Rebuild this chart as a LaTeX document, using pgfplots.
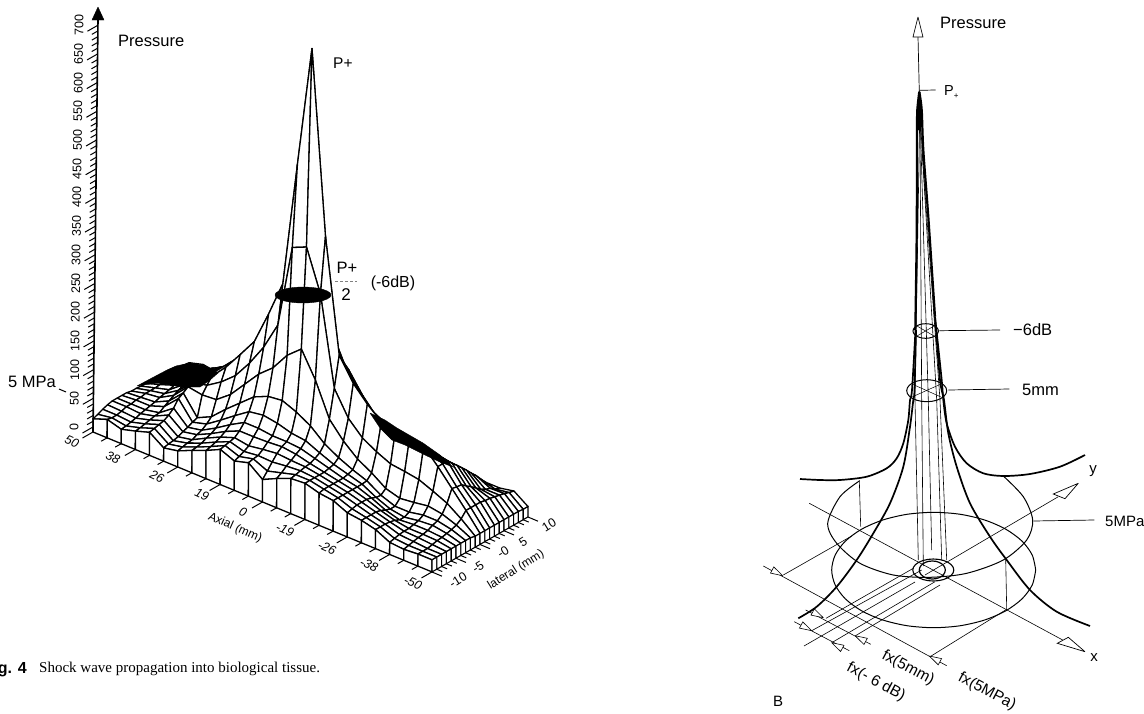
\documentclass[border=0pt]{standalone}
\usepackage{pgfplots}
\pgfplotsset{compat=1.18}
\usepackage{pgfplotstable}
\usepackage{fontspec}
\setmainfont{Liberation Sans}
\newfontfamily\capfont{Liberation Serif}

\newcommand{\fs}[1]{\fontsize{#1}{#1}\selectfont}

\pgfplotstableread[row sep=crcr]{c s\\
1 0\\ 0.966 0.259\\ 0.866 0.5\\ 0.707 0.707\\ 0.5 0.866\\ 0.259 0.966\\ 0 1\\ -0.259 0.966\\ -0.5 0.866\\ -0.707 0.707\\ -0.866 0.5\\ -0.966 0.259\\ -1 0\\
-0.966 -0.259\\ -0.866 -0.5\\ -0.707 -0.707\\ -0.5 -0.866\\ -0.259 -0.966\\ 0 -1\\ 0.259 -0.966\\ 0.5 -0.866\\ 0.707 -0.707\\ 0.866 -0.5\\ 0.966 -0.259\\ 1 0\\
}\unitc
\newcommand{\ellip}[5]{\addplot[#5] table[x expr={\thisrow{c}*#3+#1}, y expr={\thisrow{s}*#4+#2}] {\unitc};}

\begin{document}
\begin{tikzpicture}
\useasboundingbox (0,0) rectangle (1144pt,713pt);

% panel A: pressure surface, axial index x, lateral index y, pressure z
\begin{axis}[
    at={(93pt,281pt)}, anchor=origin,
    x={(14.125pt,-5.83pt)}, y={(4.8pt,2.75pt)}, z={(0.002pt,0.574pt)},
    xmin=0, xmax=24, ymin=0, ymax=20, zmin=0, zmax=750,
    hide axis, clip=false, z buffer=none,
    colormap={wh}{color(0)=(white) color(1)=(white)},
]
\addplot3[surf, shader=faceted, faceted color=black, line width=1.3pt, line join=round, mesh/rows=21, mesh/cols=25] coordinates {
(0,20,25)(1,20,32)(2,20,28)(3,20,49)(4,20,63)(5,20,75)(6,20,88)(7,20,98)(8,20,60)(9,20,70)(10,20,81)(11,20,91)(12,20,100)(13,20,72)(14,20,60)(15,20,54)(16,20,53)(17,20,44)(18,20,40)(19,20,35)(20,20,35)(21,20,30)(22,20,30)(23,20,35)(24,20,18)
(0,19,26)(1,19,33)(2,19,33)(3,19,53)(4,19,67)(5,19,79)(6,19,91)(7,19,103)(8,19,61)(9,19,72)(10,19,82)(11,19,93)(12,19,103)(13,19,77)(14,19,70)(15,19,63)(16,19,61)(17,19,53)(18,19,51)(19,19,46)(20,19,42)(21,19,40)(22,19,33)(23,19,37)(24,19,18)
(0,18,28)(1,18,35)(2,18,39)(3,18,58)(4,18,70)(5,18,84)(6,18,96)(7,18,109)(8,18,63)(9,18,74)(10,18,84)(11,18,95)(12,18,109)(13,18,82)(14,18,79)(15,18,74)(16,18,72)(17,18,63)(18,18,60)(19,18,54)(20,18,51)(21,18,51)(22,18,39)(23,18,40)(24,18,19)
(0,17,30)(1,17,39)(2,17,42)(3,17,61)(4,17,74)(5,17,88)(6,17,102)(7,17,114)(8,17,68)(9,17,79)(10,17,89)(11,17,98)(12,17,116)(13,17,91)(14,17,89)(15,17,82)(16,17,82)(17,17,74)(18,17,70)(19,17,65)(20,17,61)(21,17,60)(22,17,42)(23,17,42)(24,17,19)
(0,16,32)(1,16,40)(2,16,46)(3,16,65)(4,16,75)(5,16,91)(6,16,109)(7,16,119)(8,16,75)(9,16,86)(10,16,98)(11,16,109)(12,16,126)(13,16,102)(14,16,100)(15,16,93)(16,16,91)(17,16,84)(18,16,81)(19,16,75)(20,16,70)(21,16,70)(22,16,47)(23,16,44)(24,16,19)
(0,15,32)(1,15,42)(2,15,47)(3,15,68)(4,15,79)(5,15,95)(6,15,114)(7,15,124)(8,15,84)(9,15,98)(10,15,112)(11,15,123)(12,15,137)(13,15,116)(14,15,124)(15,15,103)(16,15,102)(17,15,93)(18,15,89)(19,15,86)(20,15,81)(21,15,79)(22,15,54)(23,15,46)(24,15,19)
(0,14,32)(1,14,44)(2,14,47)(3,14,72)(4,14,82)(5,14,98)(6,14,119)(7,14,130)(8,14,98)(9,14,116)(10,14,133)(11,14,144)(12,14,149)(13,14,133)(14,14,149)(15,14,114)(16,14,112)(17,14,103)(18,14,100)(19,14,95)(20,14,89)(21,14,88)(22,14,61)(23,14,47)(24,14,19)
(0,13,32)(1,13,42)(2,13,51)(3,13,74)(4,13,86)(5,13,102)(6,13,123)(7,13,135)(8,13,116)(9,13,137)(10,13,158)(11,13,175)(12,13,166)(13,13,154)(14,13,170)(15,13,135)(16,13,121)(17,13,112)(18,13,109)(19,13,105)(20,13,100)(21,13,96)(22,13,67)(23,13,49)(24,13,19)
(0,12,32)(1,12,42)(2,12,51)(3,12,74)(4,12,88)(5,12,105)(6,12,126)(7,12,140)(8,12,137)(9,12,161)(10,12,189)(11,12,224)(12,12,210)(13,12,189)(14,12,193)(15,12,158)(16,12,131)(17,12,123)(18,12,119)(19,12,116)(20,12,110)(21,12,105)(22,12,74)(23,12,49)(24,12,19)
(0,11,32)(1,11,40)(2,11,49)(3,11,70)(4,11,88)(5,11,105)(6,11,130)(7,11,154)(8,11,158)(9,11,189)(10,11,224)(11,11,271)(12,11,319)(13,11,263)(14,11,210)(15,11,175)(16,11,147)(17,11,131)(18,11,128)(19,11,124)(20,11,119)(21,11,105)(22,11,75)(23,11,49)(24,11,19)
(0,10,32)(1,10,39)(2,10,46)(3,10,65)(4,10,88)(5,10,100)(6,10,126)(7,10,158)(8,10,191)(9,10,249)(10,10,312)(11,10,530)(12,10,742)(13,10,425)(14,10,228)(15,10,189)(16,10,163)(17,10,142)(18,10,138)(19,10,135)(20,10,130)(21,10,105)(22,10,77)(23,10,49)(24,10,19)
(0,9,33)(1,9,39)(2,9,44)(3,9,60)(4,9,84)(5,9,89)(6,9,105)(7,9,126)(8,9,158)(9,9,196)(10,9,245)(11,9,390)(12,9,401)(13,9,329)(14,9,175)(15,9,133)(16,9,109)(17,9,95)(18,9,84)(19,9,81)(20,9,77)(21,9,67)(22,9,56)(23,9,39)(24,9,19)
(0,8,33)(1,8,39)(2,8,42)(3,8,56)(4,8,81)(5,8,77)(6,8,79)(7,8,98)(8,8,126)(9,8,154)(10,8,175)(11,8,207)(12,8,228)(13,8,184)(14,8,126)(15,8,98)(16,8,77)(17,8,63)(18,8,46)(19,8,39)(20,8,42)(21,8,46)(22,8,42)(23,8,33)(24,8,21)
(0,7,35)(1,7,37)(2,7,39)(3,7,51)(4,7,75)(5,7,42)(6,7,54)(7,7,77)(8,7,98)(9,7,119)(10,7,130)(11,7,133)(12,7,123)(13,7,109)(14,7,88)(15,7,74)(16,7,63)(17,7,54)(18,7,39)(19,7,30)(20,7,30)(21,7,35)(22,7,35)(23,7,30)(24,7,21)
(0,6,35)(1,6,37)(2,6,37)(3,6,46)(4,6,70)(5,6,39)(6,6,46)(7,6,63)(8,6,81)(9,6,98)(10,6,102)(11,6,98)(12,6,91)(13,6,88)(14,6,77)(15,6,67)(16,6,60)(17,6,53)(18,6,40)(19,6,30)(20,6,26)(21,6,30)(22,6,32)(23,6,28)(24,6,21)
(0,5,35)(1,5,35)(2,5,35)(3,5,40)(4,5,58)(5,5,35)(6,5,40)(7,5,54)(8,5,70)(9,5,84)(10,5,84)(11,5,81)(12,5,81)(13,5,79)(14,5,72)(15,5,65)(16,5,58)(17,5,53)(18,5,44)(19,5,33)(20,5,26)(21,5,28)(22,5,28)(23,5,26)(24,5,21)
(0,4,35)(1,4,35)(2,4,33)(3,4,39)(4,4,51)(5,4,32)(6,4,37)(7,4,49)(8,4,63)(9,4,74)(10,4,74)(11,4,75)(12,4,77)(13,4,74)(14,4,68)(15,4,63)(16,4,58)(17,4,53)(18,4,46)(19,4,37)(20,4,30)(21,4,26)(22,4,26)(23,4,25)(24,4,21)
(0,3,33)(1,3,32)(2,3,30)(3,3,37)(4,3,46)(5,3,28)(6,3,33)(7,3,46)(8,3,58)(9,3,67)(10,3,63)(11,3,67)(12,3,70)(13,3,68)(14,3,67)(15,3,63)(16,3,58)(17,3,53)(18,3,46)(19,3,39)(20,3,32)(21,3,26)(22,3,25)(23,3,23)(24,3,21)
(0,2,30)(1,2,30)(2,2,28)(3,2,35)(4,2,44)(5,2,26)(6,2,32)(7,2,42)(8,2,54)(9,2,65)(10,2,58)(11,2,61)(12,2,60)(13,2,63)(14,2,65)(15,2,63)(16,2,58)(17,2,53)(18,2,46)(19,2,39)(20,2,33)(21,2,25)(22,2,23)(23,2,21)(24,2,21)
(0,1,26)(1,1,30)(2,1,26)(3,1,33)(4,1,42)(5,1,25)(6,1,30)(7,1,40)(8,1,51)(9,1,63)(10,1,54)(11,1,60)(12,1,49)(13,1,56)(14,1,63)(15,1,63)(16,1,58)(17,1,53)(18,1,44)(19,1,39)(20,1,33)(21,1,23)(22,1,21)(23,1,21)(24,1,21)
(0,0,23)(1,0,32)(2,0,25)(3,0,32)(4,0,40)(5,0,23)(6,0,28)(7,0,39)(8,0,49)(9,0,61)(10,0,51)(11,0,58)(12,0,39)(13,0,51)(14,0,61)(15,0,63)(16,0,56)(17,0,53)(18,0,42)(19,0,39)(20,0,33)(21,0,21)(22,0,19)(23,0,21)(24,0,21)
};
% front skirt
\addplot3[surf, shader=faceted, faceted color=black, line width=1.3pt, mesh/rows=2, mesh/cols=25] coordinates {
(0,0,0)(1,0,0)(2,0,0)(3,0,0)(4,0,0)(5,0,0)(6,0,0)(7,0,0)(8,0,0)(9,0,0)(10,0,0)(11,0,0)(12,0,0)(13,0,0)(14,0,0)(15,0,0)(16,0,0)(17,0,0)(18,0,0)(19,0,0)(20,0,0)(21,0,0)(22,0,0)(23,0,0)(24,0,0)
(0,0,23)(1,0,32)(2,0,25)(3,0,32)(4,0,40)(5,0,23)(6,0,28)(7,0,39)(8,0,49)(9,0,61)(10,0,51)(11,0,58)(12,0,39)(13,0,51)(14,0,61)(15,0,63)(16,0,56)(17,0,53)(18,0,42)(19,0,39)(20,0,33)(21,0,21)(22,0,19)(23,0,21)(24,0,21)
};
% end skirt, lateral side
\addplot3[surf, shader=faceted, faceted color=black, line width=1.1pt, mesh/rows=2, mesh/cols=21] coordinates {
(24,0,0)(24,1,0)(24,2,0)(24,3,0)(24,4,0)(24,5,0)(24,6,0)(24,7,0)(24,8,0)(24,9,0)(24,10,0)(24,11,0)(24,12,0)(24,13,0)(24,14,0)(24,15,0)(24,16,0)(24,17,0)(24,18,0)(24,19,0)(24,20,0)
(24,0,21)(24,1,21)(24,2,21)(24,3,21)(24,4,21)(24,5,21)(24,6,21)(24,7,21)(24,8,21)(24,9,19)(24,10,19)(24,11,19)(24,12,19)(24,13,19)(24,14,19)(24,15,19)(24,16,19)(24,17,19)(24,18,19)(24,19,18)(24,20,18)
};
\end{axis}

% everything else, in image coordinates
\begin{axis}[
    at={(0pt,0pt)}, anchor=south west, scale only axis,
    width=1144pt, height=713pt,
    xmin=0, xmax=1144, ymin=0, ymax=713, y dir=reverse,
    hide axis, clip=false,
    every axis plot/.append style={black, no markers},
]
% panel A: the parts of the mesh so dense that they print solid
\addplot[fill=black, draw=black] coordinates {(137,386)(150,379)(167,370)(176,366)(190,363)(203,365)(218,373)(210,380)(200,387)(183,387)(157,383)(137,386)};
\addplot[fill=black, draw=black] coordinates {(370,413)(385,420)(397,428)(423,443)(440,455)(453,467)(440,462)(425,455)(405,445)(392,440)(380,428)(370,413)};
% panel A: pressure axis
\addplot[line width=1.6pt] coordinates {(93,432)(98,20)};
\addplot[fill=black, draw=black] coordinates {(98,7)(92,20)(104,20)(98,7)};
\addplot[quiver={u=-6,v=3.4}, line width=1pt] table[row sep=crcr, x expr={93+\thisrow{v}*0.0071}, y expr={427-\thisrow{v}*0.574}] {v\\
10\\20\\30\\40\\60\\70\\80\\90\\110\\120\\130\\140\\160\\170\\180\\190\\210\\220\\230\\240\\260\\270\\280\\290\\310\\320\\330\\340\\360\\370\\380\\390\\410\\420\\430\\440\\460\\470\\480\\490\\510\\520\\530\\540\\560\\570\\580\\590\\610\\620\\630\\640\\660\\670\\680\\690\\
};
\addplot[quiver={u=-10.5,v=6}, line width=1pt] table[row sep=crcr, x expr={93+\thisrow{v}*0.0071}, y expr={427-\thisrow{v}*0.574}] {v\\
0\\50\\100\\150\\200\\250\\300\\350\\400\\450\\500\\550\\600\\650\\700\\
};
\pgfplotsinvokeforeach{0,50,100,150,200,250,300,350,400,450,500,550,600,650,700}{
  \pgfmathsetmacro\lx{74+#1*0.0071}\pgfmathsetmacro\ly{427-#1*0.574}
  \edef\temp{\noexpand\node[rotate=90, inner sep=0pt] at (axis cs:\lx,\ly) {\noexpand\fs{12.5}#1};}\temp
}
% panel A: axial and lateral ticks
\addplot[quiver={u=-6,v=3.4}, line width=1pt] table[row sep=crcr, x expr={93+14.125*\thisrow{v}}, y expr={432+5.83*\thisrow{v}}] {v\\
1\\2\\4\\5\\7\\8\\10\\11\\13\\14\\16\\17\\19\\20\\22\\23\\
};
\addplot[quiver={u=-10.5,v=6}, line width=1pt] table[row sep=crcr, x expr={93+14.125*\thisrow{v}}, y expr={432+5.83*\thisrow{v}}] {v\\
0\\3\\6\\9\\12\\15\\18\\21\\24\\
};
\addplot[quiver={u=5.5,v=2.3}, line width=1pt] table[row sep=crcr, x expr={432+4.8*\thisrow{v}}, y expr={572-2.75*\thisrow{v}}] {v\\
1\\2\\3\\4\\6\\7\\8\\9\\11\\12\\13\\14\\16\\17\\18\\19\\
};
\addplot[quiver={u=10,v=4.2}, line width=1pt] table[row sep=crcr, x expr={432+4.8*\thisrow{v}}, y expr={572-2.75*\thisrow{v}}] {v\\
0\\5\\10\\15\\20\\
};
\ellip{303}{295}{28}{8}{fill=black, draw=black}

\begin{scope}[every node/.style={inner sep=0pt}]
\node[rotate=-25] at (axis cs:72,442) {\fs{12.5}\itshape 50};
\node[rotate=-25] at (axis cs:113,458) {\fs{12.5}\itshape 38};
\node[rotate=-25] at (axis cs:157,477) {\fs{12.5}\itshape 26};
\node[rotate=-25] at (axis cs:202,495) {\fs{12.5}\itshape 19};
\node[rotate=-25] at (axis cs:243,512) {\fs{12.5}\itshape 0};
\node[rotate=-25] at (axis cs:285,530) {\fs{12.5}\itshape -19};
\node[rotate=-25] at (axis cs:327,548) {\fs{12.5}\itshape -26};
\node[rotate=-25] at (axis cs:369,565) {\fs{12.5}\itshape -38};
\node[rotate=-25] at (axis cs:413,583) {\fs{12.5}\itshape -50};
\node[rotate=-24] at (axis cs:235,528) {\fs{12}Axial (mm)};
\node[rotate=32] at (axis cs:458,580) {\fs{12.5}-10};
\node[rotate=32] at (axis cs:478,567) {\fs{12.5}-5};
\node[rotate=32] at (axis cs:503,552) {\fs{12.5}-0};
\node[rotate=32] at (axis cs:523,542) {\fs{12.5}5};
\node[rotate=32] at (axis cs:549,525) {\fs{12.5}10};
\node[rotate=32] at (axis cs:516,570) {\fs{12}lateral (mm)};
\node[anchor=west] at (axis cs:118,41) {\fs{16.5}Pressure};
\node[anchor=west] at (axis cs:8,382) {\fs{16.5}5 MPa};
\node[anchor=west] at (axis cs:333,63) {\fs{15.5}P+};
\node at (axis cs:347,268) {\fs{16.5}P+};
\node at (axis cs:346,295) {\fs{17}2};
\node at (axis cs:393,283) {\fs{16}(-6dB)};
\node[anchor=east] at (axis cs:27,669) {\fs{16}\bfseries Fig. 4};
\node[anchor=west] at (axis cs:39,669) {\capfont\fs{15}Shock wave propagation into biological tissue.};
\end{scope}
\addplot[line width=0.6pt, densely dashed, gray] coordinates {(335,281)(357,281)};
\addplot[line width=1pt] coordinates {(59,389)(66,392)};

% panel B: pressure axis
\addplot[line width=0.7pt] coordinates {(918,36.7)(919.3,91.7)};
\addplot[line width=0.7pt, fill=white] coordinates {(918,17)(913,37)(923,37)(918,17)};
\addplot[line width=0.7pt] coordinates {(919.3,90.3)(935.7,90)};
% profile curves
\addplot[line width=1.7pt, smooth] coordinates {(915.5,330)(912,390)(910,400)(908.3,420)(903.3,443.3)(896.7,458.3)(886.7,468.3)(866.7,476.7)(840,480)(820,480)(800,479)};
\addplot[line width=1.7pt, smooth] coordinates {(916,330)(914.5,390)(913.3,400)(910,426.7)(903.3,466.7)(890,503.3)(873.3,533.3)(856.7,560)(836.7,586.7)(816.7,606.7)(798.3,618.3)};
\addplot[line width=1.7pt, smooth] coordinates {(935,316.7)(941.7,380)(943.3,400)(946.7,423.3)(955,446.7)(966.7,463.3)(983.3,473.3)(1003.3,476)(1030,474)(1060,466.7)(1085,455)};
\addplot[line width=1.7pt, smooth] coordinates {(935,316.7)(940,380)(944,400)(948.3,433.3)(956.7,466.7)(970,503.3)(990,536.7)(1006.7,560)(1030,590)(1056.7,611.7)(1090,626)};
\addplot[line width=2.2pt, smooth] coordinates {(919.3,91.7)(917.3,110)(917,133)(916.7,233)(915.3,330)};
\addplot[line width=2.2pt, smooth] coordinates {(919.3,91.7)(921.7,110)(923.3,150)(928.3,216.7)(935,316.7)};
\addplot[fill=black, draw=black] coordinates {(919.3,91)(917,110)(917.5,130)(921,130)(921.5,110)(919.3,91)};
% thin lines inside the column
\addplot[line width=0.6pt] coordinates {(919.5,130)(915,400)(918.3,560)};
\addplot[line width=0.6pt] coordinates {(920,130)(921.7,400)(923.3,566)};
\addplot[line width=0.6pt] coordinates {(920.5,130)(928.3,400)(931.7,550)};
\addplot[line width=0.6pt] coordinates {(921,130)(936.7,400)(941.7,560)};
\addplot[line width=0.6pt] coordinates {(922,150)(940,400)(946.7,560)};
% level rings
\ellip{925.7}{331}{12.7}{7.3}{line width=1pt}
\ellip{926.7}{390.7}{20}{11}{line width=1pt}
\addplot[line width=0.5pt] coordinates {(917,326)(934,336)};
\addplot[line width=0.5pt] coordinates {(917,336)(934,326)};
\addplot[line width=0.5pt] coordinates {(912,384)(941,397)};
\addplot[line width=0.5pt] coordinates {(912,397)(941,384)};
\addplot[line width=0.7pt] coordinates {(939.3,330.7)(1000,330)};
\addplot[line width=0.7pt] coordinates {(948.3,390)(1009.3,389)};
\addplot[line width=1pt, smooth] coordinates {(859.3,481)(840,496.7)(827.7,523.3)(836.7,543.3)(860,563.3)(893.3,575)(930,577.3)(966.7,573.3)(1003.3,560)(1026.7,540)(1032.7,520)(1023.3,496.7)(1003.3,476)};
\ellip{933.7}{570}{102}{57.7}{line width=1pt, smooth}
\ellip{933.3}{570}{20.5}{11}{line width=1.1pt}
\ellip{932.3}{570}{13}{9}{line width=1.2pt}
\addplot[line width=0.6pt] coordinates {(859.3,480)(860.7,526.7)};
\addplot[line width=0.6pt] coordinates {(1005.7,559.3)(1006.7,609.3)};
\addplot[line width=0.7pt] coordinates {(1033.3,521)(1094.3,520)};
% ground axes
\addplot[line width=0.6pt] coordinates {(925,575)(1058.3,496.7)};
\addplot[line width=0.7pt, fill=white] coordinates {(1078.3,483.3)(1053.3,494)(1065,498.7)(1078.3,483.3)};
\addplot[line width=0.6pt] coordinates {(809.3,503.3)(1062.7,640)};
\addplot[line width=0.7pt, fill=white] coordinates {(1085,651.7)(1068.3,637.3)(1057.3,643.3)(1085,651.7)};
% dimension lines
\addplot[line width=0.6pt] coordinates {(763.3,566)(946.7,665.7)};
\addplot[line width=0.6pt] coordinates {(805.7,610)(870.7,644.3)};
\addplot[line width=0.6pt] coordinates {(794.3,621.7)(849.3,650.7)};
\addplot[line width=0.6pt] coordinates {(783.3,575)(851.7,536)};
\addplot[line width=0.6pt] coordinates {(930,656.7)(1006.7,609.3)};
\addplot[line width=0.6pt] coordinates {(826,618.3)(913.3,568.3)};
\addplot[line width=0.6pt] coordinates {(811.7,630.7)(921.7,570)};
\addplot[line width=0.6pt] coordinates {(855,636)(940,585)};
\addplot[line width=0.6pt] coordinates {(831.7,642.7)(935,581.7)};
\addplot[line width=0.6pt] coordinates {(804,646)(915,582)};
\addplot[line width=0.6pt, fill=white] coordinates {(782.7,575.7)(770.5,573.1)(773.8,566.9)(782.7,575.7)};
\addplot[line width=0.6pt, fill=white] coordinates {(929.3,656)(938.2,664.8)(941.6,658.6)(929.3,656)};
\addplot[line width=0.6pt, fill=white] coordinates {(823.3,617.7)(811,615.1)(814.4,608.9)(823.3,617.7)};
\addplot[line width=0.6pt, fill=white] coordinates {(855,635.7)(864,644.5)(867.3,638.3)(855,635.7)};
\addplot[line width=0.6pt, fill=white] coordinates {(811.7,630.7)(799.4,628.1)(802.8,621.9)(811.7,630.7)};
\addplot[line width=0.6pt, fill=white] coordinates {(831.7,642.7)(840.6,651.5)(844,645.3)(831.7,642.7)};

\begin{scope}[every node/.style={inner sep=0pt}]
\node[anchor=west] at (axis cs:940,23) {\fs{16.5}Pressure};
\node[anchor=west] at (axis cs:944,92) {\fs{14.5}P\raisebox{-3pt}{\fs{8}+}};
\node[anchor=west] at (axis cs:1013,330) {\fs{16.5}−6dB};
\node[anchor=west] at (axis cs:1022,390) {\fs{16.5}5mm};
\node[anchor=west] at (axis cs:1105,521) {\fs{15}5MPa};
\node at (axis cs:1093,471) {\fs{15}y};
\node at (axis cs:1094,658) {\fs{15}x};
\node at (axis cs:778,701) {\fs{15}B};
\node[rotate=-28] at (axis cs:908,668) {\fs{15.5}fx(5mm)};
\node[rotate=-28] at (axis cs:876,682) {\fs{15.5}fx(- 6 dB)};
\node[rotate=-28] at (axis cs:987,692) {\fs{15.5}fx(5MPa)};
\end{scope}
\end{axis}
\end{tikzpicture}
\end{document}
